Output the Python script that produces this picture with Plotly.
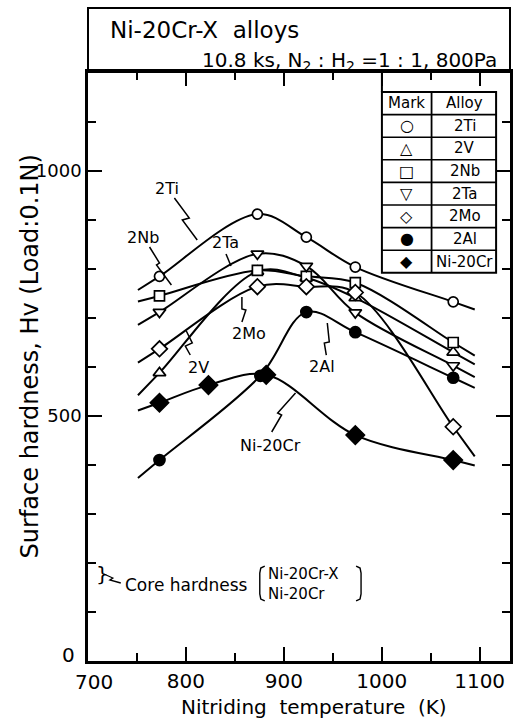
import plotly.graph_objects as go

# ---------------- data ----------------
temps = [773, 873, 923, 973, 1073]
hv_2ti = [785, 912, 865, 804, 733]
hv_2v = [588, 795, 782, 741, 630]
hv_2nb = [745, 797, 785, 772, 650]
hv_2ta = [712, 831, 806, 711, 603]
hv_2mo = [637, 764, 764, 752, 478]
temps_al = [773, 876, 923, 973, 1073]
hv_2al = [410, 582, 712, 671, 578]
temps_nicr = [773, 823, 882, 973, 1073]
hv_nicr = [527, 563, 584, 461, 410]

series_names = ["2Ti", "2V", "2Nb", "2Ta", "2Mo", "2Al", "Ni-20Cr"]
legend_glyphs = ["○", "△", "□", "▽", "◇", "●", "◆"]

x_ticks = [800, 900, 1000, 1100]
y_ticks = [500, 1000]

FONT = "DejaVu Sans"
W, H = 513, 721
L, R, T, B = 88, 513, 72, 661  # plot area in pixels


def ext(t, y, d=22):
    """extend a curve a little beyond its first and last measured points"""
    s0 = (y[1] - y[0]) / (t[1] - t[0])
    s1 = (y[-1] - y[-2]) / (t[-1] - t[-2])
    return ([t[0] - d] + list(t) + [t[-1] + d],
            [y[0] - s0 * d] + list(y) + [y[-1] + s1 * d])


def P(px, py):
    return (px - L) / (R - L), (B - py) / (B - T)


def path(points):
    pts = [P(a, b) for a, b in points]
    return "M " + " L ".join(f"{x:.5f},{y:.5f}" for x, y in pts)


def note(px, py, text, size, xanchor="center", angle=0):
    xp, yp = P(px, py)
    return dict(xref="paper", yref="paper", x=xp, y=yp, text=text, showarrow=False,
                xanchor=xanchor, yanchor="middle", textangle=angle, align="left",
                font=dict(family=FONT, size=size, color="black"))


fig = go.Figure()

series = [
    (temps, hv_2ti, dict(symbol="circle", size=10, color="white")),
    (temps, hv_2v, dict(symbol="triangle-up", size=11, color="white")),
    (temps, hv_2nb, dict(symbol="square", size=10, color="white")),
    (temps, hv_2ta, dict(symbol="triangle-down", size=11, color="white")),
    (temps, hv_2mo, dict(symbol="diamond", size=12, color="white")),
    (temps_al, hv_2al, dict(symbol="circle", size=11, color="black")),
    (temps_nicr, hv_nicr, dict(symbol="diamond", size=14, color="black")),
]

for (t, y, m), name in zip(series, series_names):
    tx, ty = ext(t, y)
    fig.add_trace(go.Scatter(x=tx, y=ty, mode="lines", name=name,
                             line=dict(color="black", width=2, shape="spline", smoothing=1.0),
                             hoverinfo="skip", showlegend=False))
for (t, y, m), name in zip(series, series_names):
    mk = dict(m)
    mk["line"] = dict(color="black", width=1.7)
    fig.add_trace(go.Scatter(x=t, y=y, mode="markers", name=name, marker=mk, showlegend=False))

shapes = []
annotations = []

# header box
shapes.append(dict(type="rect", xref="paper", yref="paper",
                   x0=0, x1=1, y0=1, y1=P(0, 8)[1], line=dict(color="black", width=2)))
annotations.append(note(108, 30, "Ni-20Cr-X  alloys", 23, "left"))
annotations.append(note(502, 61, "10.8 ks, N<sub>2</sub> : H<sub>2</sub> =1 : 1, 800Pa", 20, "right"))

# legend table
tl, tr, tdiv = 384, 499, 434
ttop, rowh = 92, 22.6
tbot = ttop + rowh * 8
x0, y0 = P(tl, tbot)
x1, y1 = P(tr, ttop)
shapes.append(dict(type="rect", xref="paper", yref="paper", x0=x0, x1=x1, y0=y0, y1=y1,
                   fillcolor="white", line=dict(color="black", width=2)))
shapes.append(dict(type="path", xref="paper", yref="paper", path=path([(tl, T), (tl, ttop)]),
                   line=dict(color="black", width=2)))
shapes.append(dict(type="path", xref="paper", yref="paper", path=path([(tdiv, ttop), (tdiv, tbot)]),
                   line=dict(color="black", width=1.8)))
for k in range(1, 8):
    yy = ttop + k * rowh
    shapes.append(dict(type="path", xref="paper", yref="paper", path=path([(tl, yy), (tr, yy)]),
                       line=dict(color="black", width=1.6)))
cells = [("Mark", "Alloy")] + list(zip(legend_glyphs, series_names))
for k, (g, nm) in enumerate(cells):
    yc = ttop + (k + 0.5) * rowh
    annotations.append(note((tl + tdiv) / 2, yc, g, 15 if k == 0 else 16))
    annotations.append(note((tdiv + tr) / 2 + 1, yc, nm, 15))

# curve labels with zig-zag leaders
labels = [
    ("2Ti", (168, 188), [(175, 198), (190, 218), (183, 220), (198, 240)]),
    ("2Nb", (143, 237), [(150, 247), (160, 263), (157, 265), (172, 285)]),
    ("2Ta", (226, 243), [(227, 254), (232, 266)]),
    ("2Mo", (250, 333), [(243, 322), (247, 310), (243, 309), (243, 297)]),
    ("2V", (199, 367), [(191, 355), (186, 346), (193, 343), (187, 331)]),
    ("2Al", (324, 366), [(328, 355), (326, 343), (331, 342), (329, 323)]),
    ("Ni-20Cr", (272, 445), [(273, 432), (283, 415), (279, 413), (297, 393)]),
]
for txt, (cx, cy), pts in labels:
    annotations.append(note(cx, cy, txt, 16))
    shapes.append(dict(type="path", xref="paper", yref="paper", path=path(pts),
                       line=dict(color="black", width=1.5)))

# core hardness note
annotations.append(note(94, 574, "}", 20, "left"))
shapes.append(dict(type="path", xref="paper", yref="paper",
                   path=path([(104, 574), (113, 578), (110, 580), (121, 583)]),
                   line=dict(color="black", width=1.3)))
annotations.append(note(123, 585, "Core hardness", 17, "left"))
shapes.append(dict(type="path", xref="paper", yref="paper",
                   path=path([(266, 566), (262, 568), (261, 573), (261, 594), (262, 599), (266, 601)]),
                   line=dict(color="black", width=1.4)))
shapes.append(dict(type="path", xref="paper", yref="paper",
                   path=path([(358, 566), (362, 568), (363, 573), (363, 594), (362, 599), (358, 601)]),
                   line=dict(color="black", width=1.4)))
annotations.append(note(267, 584, "Ni-20Cr-X<br>Ni-20Cr", 15, "left"))

# corner tick labels
annotations.append(note(68, 655, "0", 20))
annotations.append(note(94, 682, "700", 20))

# axis titles
annotations.append(note(316, 707, "Nitriding  temperature  (K)", 20))
annotations.append(note(30, 356, "Surface hardness, Hv (Load:0.1N)", 24, angle=-90))

fig.update_layout(
    width=W, height=H,
    margin=dict(l=L, r=W - R, t=T, b=H - B),
    paper_bgcolor="white", plot_bgcolor="white",
    font=dict(family=FONT, size=20, color="black"),
    shapes=shapes, annotations=annotations,
    xaxis=dict(range=[700, 1131], tickvals=x_ticks, ticks="inside", ticklen=14, tickwidth=2,
               tickcolor="black", showline=True, linecolor="black", linewidth=2.5,
               mirror="ticks", showgrid=False, zeroline=False,
               minor=dict(dtick=50, tick0=700, ticks="inside", ticklen=8, tickwidth=2,
                          tickcolor="black", showgrid=False),
               tickfont=dict(family=FONT, size=20)),
    yaxis=dict(range=[0, 1202], tickvals=y_ticks, ticks="inside", ticklen=14, tickwidth=2,
               tickcolor="black", showline=True, linecolor="black", linewidth=2.5,
               mirror="ticks", showgrid=False, zeroline=False,
               minor=dict(dtick=100, tick0=0, ticks="inside", ticklen=8, tickwidth=2,
                          tickcolor="black", showgrid=False),
               tickfont=dict(family=FONT, size=18)),
)

fig.write_html("out.html")
